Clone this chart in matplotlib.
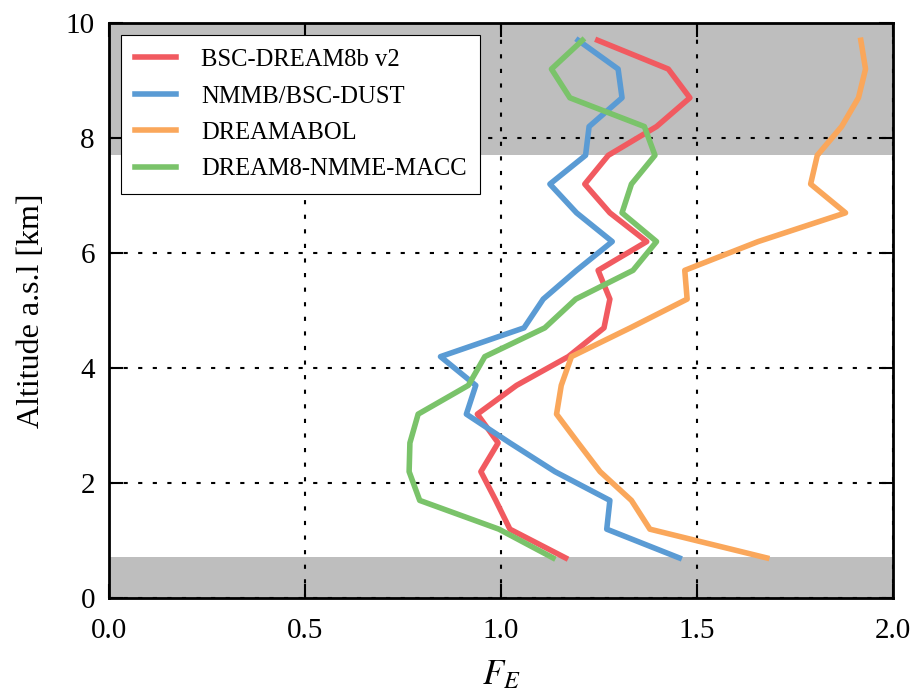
import numpy as np
import matplotlib
matplotlib.use("Agg")
import matplotlib.pyplot as plt

# Altitudes (km a.s.l.) and F_E profiles per model
ALTITUDE = [0.7, 1.2, 1.7, 2.2, 2.7, 3.2, 3.7, 4.2, 4.7, 5.2,
            5.7, 6.2, 6.7, 7.2, 7.7, 8.2, 8.7, 9.2, 9.7]

BSC_DREAM8B = [1.165, 1.023, 0.987, 0.949, 0.993, 0.940, 1.040, 1.172, 1.263, 1.278,
               1.248, 1.372, 1.278, 1.214, 1.274, 1.397, 1.482, 1.427, 1.247]
NMMB_BSC    = [1.455, 1.270, 1.278, 1.138, 1.023, 0.912, 0.936, 0.846, 1.059, 1.108,
               1.193, 1.284, 1.193, 1.125, 1.216, 1.225, 1.309, 1.299, 1.197]
DREAMABOL   = [1.678, 1.380, 1.333, 1.253, 1.197, 1.142, 1.154, 1.180, 1.330, 1.475,
               1.469, 1.656, 1.879, 1.790, 1.807, 1.869, 1.912, 1.930, 1.918]
DREAM8_MACC = [1.133, 0.995, 0.793, 0.766, 0.768, 0.789, 0.917, 0.959, 1.112, 1.191,
               1.337, 1.397, 1.309, 1.333, 1.393, 1.366, 1.176, 1.129, 1.208]

LABELS = ["BSC-DREAM8b v2", "NMMB/BSC-DUST", "DREAMABOL", "DREAM8-NMME-MACC"]
COLORS = ["#F15A60", "#5A9BD4", "#FAA75B", "#7AC36A"]

# Shaded altitude ranges (excluded layers)
BANDS = [(0.0, 0.72), (7.7, 10.0)]

plt.rcParams["font.family"] = ["Liberation Serif", "DejaVu Serif"]
plt.rcParams["mathtext.fontset"] = "stix"


def main():
    fig = plt.figure(figsize=(9.14, 6.98), dpi=100)
    ax = fig.add_axes([0.119, 0.143, 0.858, 0.824])

    for lo, hi in BANDS:
        ax.axhspan(lo, hi, color="#bebebe", lw=0, zorder=0)

    for vals, lab, col in zip([BSC_DREAM8B, NMMB_BSC, DREAMABOL, DREAM8_MACC], LABELS, COLORS):
        ax.plot(vals, ALTITUDE, color=col, lw=4, label=lab, zorder=3)

    ax.set_xlim(0, 2)
    ax.set_ylim(0, 10)
    ax.set_xticks(np.arange(0, 2.01, 0.5))
    ax.set_yticks(np.arange(0, 10.1, 2))
    ax.set_xticklabels(["0.0", "0.5", "1.0", "1.5", "2.0"])

    ax.grid(True, color="black", linestyle=(0, (2, 5)), lw=1.5, zorder=1)
    ax.set_axisbelow(False)
    ax.tick_params(direction="in", length=10, width=1.5, top=True, right=True,
                   labelsize=21)
    ax.tick_params(axis="x", pad=14)
    ax.tick_params(axis="y", pad=10)
    for sp in ax.spines.values():
        sp.set_linewidth(2)
        sp.set_zorder(4)

    ax.set_xlabel(r"$F_E$", fontsize=25, labelpad=11)
    ax.set_ylabel("Altitude a.s.l [km]", fontsize=23, labelpad=14)

    leg = ax.legend(loc="upper left", fontsize=17.7, frameon=True, fancybox=False,
                    framealpha=1, borderpad=0.55, handlelength=1.7, handletextpad=1.0,
                    labelspacing=0.58, borderaxespad=0.5)
    leg.get_frame().set_edgecolor("black")
    leg.get_frame().set_facecolor("white")
    leg.get_frame().set_linewidth(0.8)
    leg.set_zorder(5)

    fig.savefig("out.png", dpi=100)
    plt.close(fig)


if __name__ == "__main__":
    main()
